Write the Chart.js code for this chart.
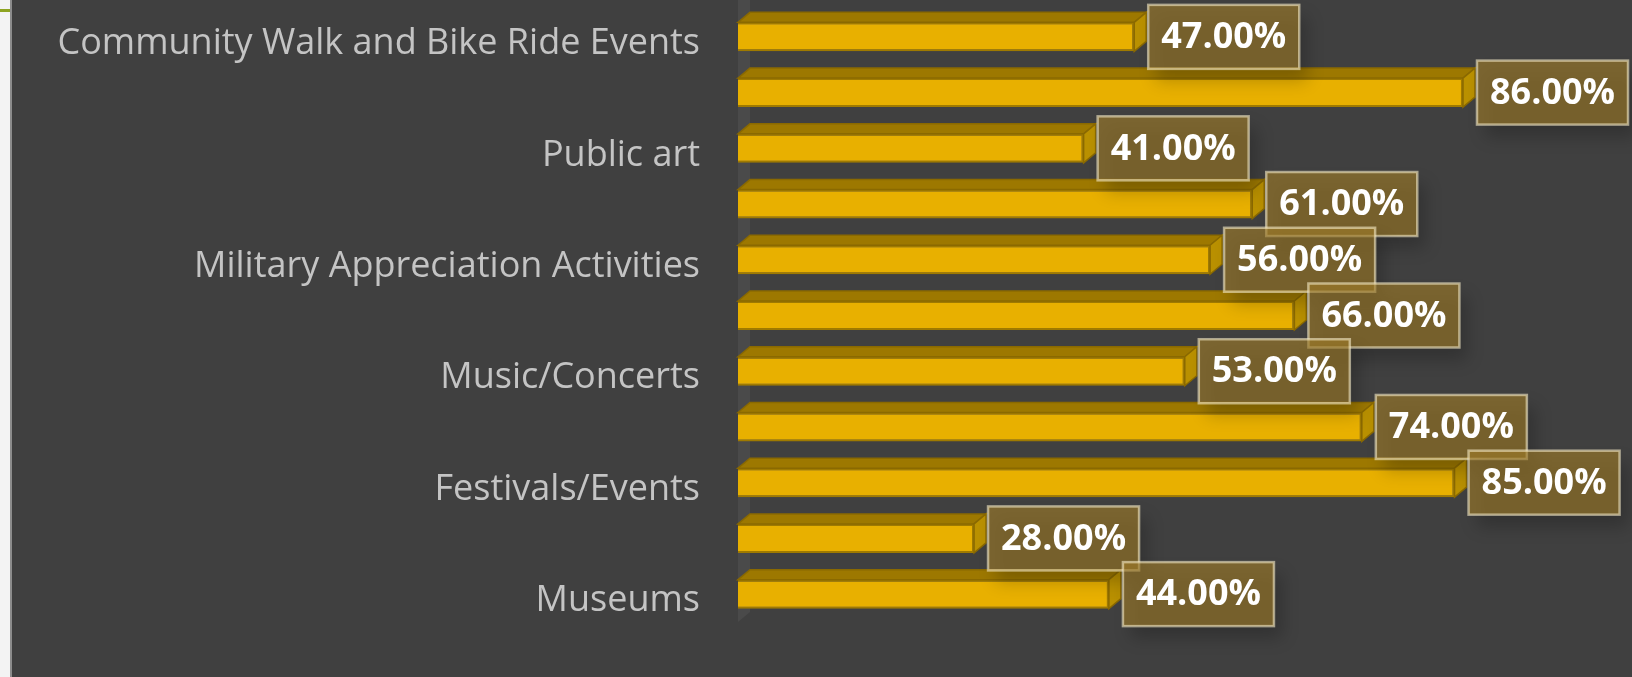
<!DOCTYPE html>
<html>
<head>
<meta charset="utf-8">
<script src="https://cdn.jsdelivr.net/npm/chart.js@4.4.1/dist/chart.umd.min.js"></script>
<style>
  html, body { margin: 0; padding: 0; background: #404040; }
  #wrap { width: 1632px; height: 677px; }
</style>
</head>
<body>
<div id="wrap"><canvas id="plot" width="1632" height="677"></canvas></div>
<script>
  // categories top to bottom, every other one has no visible label
  var categories = [
    "Community Walk and Bike Ride Events", "",
    "Public art", "",
    "Military Appreciation Activities", "",
    "Music/Concerts", "",
    "Festivals/Events", "",
    "Museums"
  ];
  var values = [47, 86, 41, 61, 56, 66, 53, 74, 85, 28, 44];
  var xMin = 0;
  var xMax = 100;

  var DX = 12, DY = 10;

  // page background: light strip at left, dark panel
  var background = {
    id: 'background',
    beforeDraw: function(chart) {
      var ctx = chart.ctx;
      ctx.save();
      ctx.fillStyle = '#404040';
      ctx.fillRect(0, 0, chart.width, chart.height);
      ctx.fillStyle = '#f3f3f3';
      ctx.fillRect(0, 0, 10, chart.height);
      ctx.fillStyle = '#8c8c8c';
      ctx.fillRect(10, 0, 2, chart.height);
      ctx.fillStyle = '#8da321';
      ctx.fillRect(0, 9, 10, 3);
      // back wall of the 3d plot
      var a = chart.chartArea;
      ctx.fillStyle = '#4a4a4a';
      ctx.beginPath();
      ctx.moveTo(a.left, a.bottom);
      ctx.lineTo(a.left + DX, a.bottom - DY);
      ctx.lineTo(a.left + DX, 0);
      ctx.lineTo(a.left, 0);
      ctx.closePath();
      ctx.fill();
      ctx.restore();
    }
  };

  // top and end faces of the bars, then the value boxes
  var bars3d = {
    id: 'bars3d',
    afterDatasetsDraw: function(chart) {
      var ctx = chart.ctx;
      var meta = chart.getDatasetMeta(0);
      ctx.save();
      meta.data.forEach(function(bar) {
        var top = bar.y - bar.height / 2;
        var bottom = bar.y + bar.height / 2;
        // top face
        ctx.fillStyle = '#9d7800';
        ctx.strokeStyle = '#8a6900';
        ctx.lineWidth = 1.5;
        ctx.beginPath();
        ctx.moveTo(bar.base, top);
        ctx.lineTo(bar.base + DX, top - DY);
        ctx.lineTo(bar.x + DX, top - DY);
        ctx.lineTo(bar.x, top);
        ctx.closePath();
        ctx.fill();
        ctx.stroke();
        // end face
        ctx.fillStyle = '#b99000';
        ctx.beginPath();
        ctx.moveTo(bar.x, top);
        ctx.lineTo(bar.x + DX, top - DY);
        ctx.lineTo(bar.x + DX, bottom - DY);
        ctx.lineTo(bar.x, bottom);
        ctx.closePath();
        ctx.fill();
        ctx.stroke();
      });

      ctx.font = '700 36px "Open Sans"';
      ctx.textBaseline = 'middle';
      ctx.textAlign = 'center';
      meta.data.forEach(function(bar, i) {
        var txt = values[i].toFixed(2) + '%';
        var w = ctx.measureText(txt).width + 26;
        var h = 64;
        var left = bar.x + DX + 2;
        var tp = bar.y - h / 2;
        ctx.save();
        ctx.shadowColor = 'rgba(0,0,0,0.35)';
        ctx.shadowBlur = 16;
        ctx.shadowOffsetX = 8;
        ctx.shadowOffsetY = 12;
        ctx.fillStyle = 'rgba(160,125,40,0.62)';
        ctx.fillRect(left, tp, w, h);
        ctx.restore();
        ctx.strokeStyle = 'rgba(245,235,200,0.6)';
        ctx.lineWidth = 2.5;
        ctx.strokeRect(left, tp, w, h);
        ctx.fillStyle = '#ffffff';
        ctx.fillText(txt, left + w / 2, bar.y + 1);
      });
      ctx.restore();
    }
  };

  var config = {
    type: 'bar',
    data: {
      labels: categories,
      datasets: [{
        data: values,
        backgroundColor: '#e8b000',
        borderColor: '#9f7a00',
        borderWidth: 2,
        categoryPercentage: 1,
        barPercentage: 0.52
      }]
    },
    options: {
      indexAxis: 'y',
      responsive: false,
      animation: false,
      layout: { padding: { top: 9, bottom: 55, right: 51, left: 0 } },
      plugins: {
        legend: { display: false },
        tooltip: { enabled: false }
      },
      scales: {
        x: {
          display: false,
          min: xMin,
          max: xMax
        },
        y: {
          grid: { display: false },
          border: { display: false },
          afterFit: function(scale) {
            scale.width = 738;
            scale.paddingTop = 0;
            scale.paddingBottom = 0;
          },
          ticks: {
            autoSkip: false,
            padding: 30,
            labelOffset: 7,
            color: '#c4c4c4',
            font: { family: '"Open Sans"', size: 36 }
          }
        }
      }
    },
    plugins: [background, bars3d]
  };

  var plotCtx = document.getElementById('plot').getContext('2d');
  var chart = new Chart(plotCtx, config);
</script>
</body>
</html>
